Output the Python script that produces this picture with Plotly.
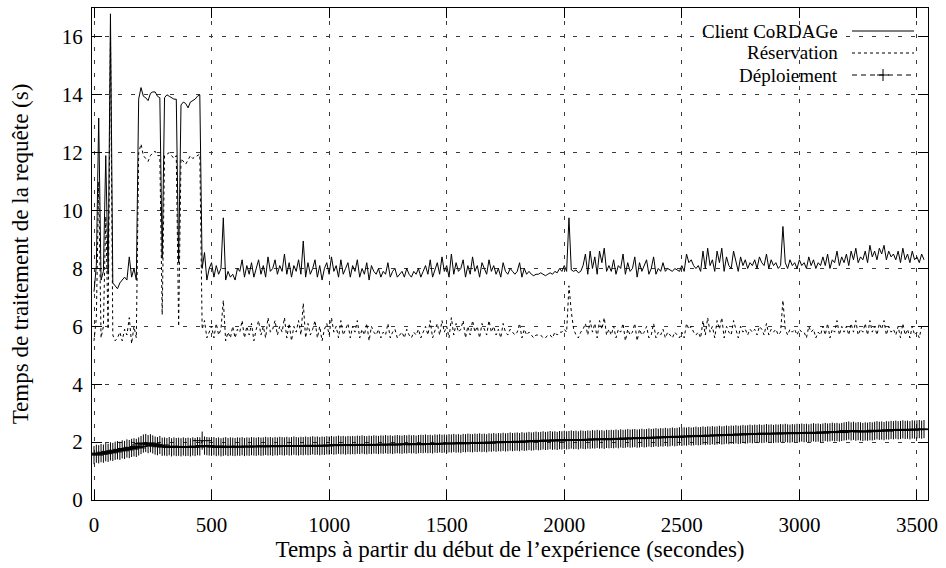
import plotly.graph_objects as go

# Request handling times (s), one sample every 10 s of the experiment
step_s = 10

client_cordage = [
    7.2, 8.1, 13.2, 7.6, 7.9, 11.9, 7.8, 16.8, 7.5, 7.4,
    7.3, 7.5, 7.6, 7.7, 7.6, 8.4, 7.7, 8.0, 7.6, 13.85,
    14.25, 13.95, 13.9, 13.8, 14.05, 14.1, 14.1, 13.95, 13.9, 8.35,
    13.9, 14.0, 13.95, 13.9, 13.85, 13.85, 8.2, 13.65, 13.75, 13.7,
    13.55, 13.75, 13.8, 13.85, 13.95, 14.0, 8.0, 8.55, 7.6, 8.0,
    8.2, 7.7, 8.1, 7.8, 8.0, 9.75, 7.6, 7.9, 7.7, 7.8,
    7.6, 8.0, 7.9, 8.3, 7.7, 8.1, 7.8, 8.2, 7.7, 8.0,
    8.3, 7.8, 8.1, 7.7, 8.4, 7.9, 8.0, 8.3, 7.8, 8.1,
    7.9, 8.5, 7.8, 8.2, 7.7, 8.1, 7.9, 8.3, 7.8, 8.95,
    7.7, 8.2, 7.8, 8.0, 8.3, 7.7, 8.1, 7.6, 8.0, 8.2,
    7.8, 8.4, 7.9, 8.1, 7.7, 8.3, 7.8, 8.0, 8.2, 7.7,
    8.1, 7.9, 8.3, 7.7, 8.0, 7.8, 8.2, 7.6, 8.1, 7.9,
    7.8, 8.0, 7.7, 7.9, 7.8, 8.2, 7.7, 7.9, 8.0, 7.7,
    7.8, 7.9, 7.7, 8.0, 7.8, 7.7, 7.9, 7.8, 8.0, 7.7,
    7.9, 8.1, 7.8, 8.3, 7.7, 8.0, 8.2, 7.8, 8.4, 7.9,
    8.1, 7.7, 8.5, 7.8, 8.2, 7.9, 8.0, 8.3, 7.7, 8.1,
    7.8, 8.4, 7.9, 8.1, 7.7, 8.2, 8.0, 7.8, 8.3, 7.9,
    8.1, 7.8, 8.0, 7.7, 8.2, 7.9, 7.8, 8.0, 7.9, 7.8,
    7.9, 8.2, 7.7, 8.0, 7.8, 7.9, 7.8, 7.75, 7.8, 7.8,
    7.85, 7.8, 7.75, 7.8, 7.85, 7.8, 7.9, 7.85, 8.0, 7.9,
    8.1, 7.9, 9.75, 7.95, 7.9, 7.95, 7.85, 7.9, 8.1, 8.5,
    7.8, 8.6, 8.0, 8.4, 7.8, 8.6, 8.2, 8.7, 7.9, 8.1,
    7.9, 8.3, 7.8, 8.1, 8.0, 8.5, 7.8, 8.2, 7.9, 8.0,
    8.4, 7.7, 8.2, 7.9, 8.1, 8.3, 7.8, 8.0, 8.4, 7.8,
    8.0, 7.9, 8.2, 7.9, 8.0, 7.95, 7.9, 8.0, 7.95, 7.9,
    8.1, 7.9, 8.5, 8.2, 8.3, 8.1, 8.0, 8.1, 7.9, 8.6,
    8.0, 8.7, 8.1, 8.3, 7.9, 8.6, 8.2, 8.7, 7.9, 8.4,
    8.1, 8.0, 8.6, 8.2, 7.9, 8.4, 8.1, 8.3, 8.0, 8.2,
    8.1, 8.3, 8.0, 8.4, 8.2, 8.1, 8.5, 8.0, 8.3, 8.1,
    8.2, 8.0, 8.1, 9.45, 8.2, 8.0, 8.3, 8.1, 8.2, 8.0,
    8.3, 8.1, 8.2, 8.0, 8.4, 8.1, 8.3, 8.0, 8.2, 8.1,
    8.4, 8.1, 8.5, 8.0, 8.3, 8.2, 8.6, 8.1, 8.4, 8.2,
    8.5, 8.1, 8.6, 8.3, 8.7, 8.2, 8.4, 8.3, 8.6, 8.2,
    8.8, 8.4, 8.6, 8.3, 8.7, 8.5, 8.8, 8.3, 8.6, 8.4,
    8.5, 8.3, 8.6, 8.2, 8.7, 8.3, 8.5, 8.2, 8.6, 8.3,
    8.4, 8.2, 8.5, 8.3,
]

reservation = [
    5.5, 6.3, 11.0, 5.6, 6.0, 9.8, 5.9, 16.0, 5.7, 5.5,
    5.6, 5.8, 5.5, 5.9, 5.7, 6.3, 5.4, 6.0, 5.6, 12.0,
    12.3, 11.9, 11.8, 11.7, 11.9, 12.0, 12.05, 11.9, 11.9, 6.4,
    11.9, 11.95, 12.0, 11.9, 11.8, 11.9, 6.0, 11.8, 11.7, 11.6,
    11.75, 11.9, 11.8, 11.85, 11.9, 11.95, 5.9, 6.2, 5.6, 5.8,
    6.0, 5.6, 6.1, 5.7, 5.9, 6.9, 5.5, 5.8, 5.6, 6.0,
    5.6, 5.9, 5.8, 6.2, 5.6, 6.0, 5.7, 6.1, 5.5, 5.9,
    6.2, 5.7, 6.0, 5.6, 6.3, 5.8, 5.9, 6.2, 5.7, 6.0,
    5.8, 6.3, 5.6, 6.1, 5.5, 6.0, 5.8, 6.2, 5.7, 6.8,
    5.6, 6.1, 5.7, 5.9, 6.2, 5.6, 6.0, 5.5, 5.9, 6.1,
    5.7, 6.3, 5.8, 6.0, 5.6, 6.2, 5.7, 5.9, 6.1, 5.6,
    6.0, 5.8, 6.2, 5.6, 5.9, 5.7, 6.1, 5.5, 6.0, 5.8,
    5.7, 5.9, 5.6, 5.8, 5.7, 6.1, 5.6, 5.8, 5.9, 5.6,
    5.7, 5.8, 5.6, 5.9, 5.7, 5.6, 5.8, 5.7, 5.9, 5.6,
    5.8, 6.0, 5.7, 6.2, 5.6, 5.9, 6.1, 5.7, 6.2, 5.8,
    6.0, 5.6, 6.3, 5.7, 6.1, 5.8, 5.9, 6.2, 5.6, 6.0,
    5.7, 6.2, 5.8, 6.0, 5.6, 6.1, 5.9, 5.7, 6.2, 5.8,
    6.0, 5.7, 5.9, 5.6, 6.1, 5.8, 5.7, 5.9, 5.8, 5.7,
    5.8, 6.1, 5.6, 5.9, 5.7, 5.8, 5.7, 5.6, 5.7, 5.7,
    5.7, 5.6, 5.6, 5.7, 5.7, 5.6, 5.8, 5.7, 5.8, 5.8,
    5.9, 5.8, 7.4, 6.5, 5.9, 5.7, 5.6, 5.8, 5.9, 6.1,
    5.7, 6.2, 5.8, 6.1, 5.6, 6.2, 5.9, 6.3, 5.7, 5.9,
    5.7, 6.0, 5.6, 5.9, 5.8, 6.1, 5.5, 5.9, 5.7, 5.8,
    6.1, 5.5, 5.9, 5.7, 5.8, 6.0, 5.6, 5.7, 6.1, 5.6,
    5.8, 5.7, 5.9, 5.6, 5.8, 5.7, 5.6, 5.8, 5.7, 5.6,
    5.8, 5.6, 6.1, 5.9, 6.0, 5.8, 5.7, 5.8, 5.6, 6.2,
    5.7, 6.3, 5.8, 6.0, 5.6, 6.2, 5.9, 6.3, 5.6, 6.0,
    5.8, 5.7, 6.2, 5.9, 5.6, 6.0, 5.8, 5.9, 5.7, 5.9,
    5.8, 5.9, 5.7, 6.0, 5.9, 5.7, 6.1, 5.7, 5.9, 5.8,
    5.9, 5.7, 5.8, 6.9, 5.9, 5.7, 5.9, 5.8, 5.9, 5.7,
    5.9, 5.8, 5.8, 5.6, 6.0, 5.8, 5.9, 5.6, 5.8, 5.7,
    6.0, 5.7, 6.1, 5.6, 5.9, 5.8, 6.2, 5.7, 6.0, 5.8,
    6.0, 5.7, 6.1, 5.8, 6.2, 5.7, 5.9, 5.8, 6.1, 5.7,
    6.2, 5.8, 6.0, 5.7, 6.1, 5.9, 6.2, 5.7, 6.0, 5.8,
    5.9, 5.7, 6.0, 5.6, 6.1, 5.7, 5.9, 5.6, 6.0, 5.7,
    5.8, 5.6, 6.0, 5.9,
]

deploiement = [
    1.55, 1.6, 1.58, 1.62, 1.6, 1.65, 1.63, 1.68, 1.66, 1.7,
    1.72, 1.7, 1.75, 1.73, 1.78, 1.76, 1.8, 1.82, 1.8, 1.85,
    1.9, 1.95, 1.97, 1.93, 1.96, 1.92, 1.88, 1.86, 1.9, 1.84,
    1.85, 1.83, 1.86, 1.82, 1.85, 1.83, 1.84, 1.82, 1.85, 1.83,
    1.84, 1.82, 1.85, 1.83, 1.86, 1.85, 2.05, 1.88, 1.86, 1.85,
    1.84, 1.86, 1.83, 1.85, 1.82, 1.84, 1.86, 1.83, 1.85, 1.84,
    1.83, 1.85, 1.84, 1.86, 1.83, 1.85, 1.84, 1.86, 1.85, 1.84,
    1.86, 1.84, 1.85, 1.87, 1.85, 1.86, 1.84, 1.86, 1.85, 1.87,
    1.86, 1.85, 1.87, 1.85, 1.86, 1.88, 1.86, 1.85, 1.87, 1.86,
    1.88, 1.86, 1.87, 1.89, 1.87, 1.88, 1.86, 1.88, 1.87, 1.89,
    1.88, 1.9, 1.88, 1.89, 1.91, 1.89, 1.9, 1.88, 1.9, 1.89,
    1.9, 1.89, 1.91, 1.9, 1.92, 1.9, 1.89, 1.91, 1.9, 1.92,
    1.91, 1.9, 1.92, 1.91, 1.93, 1.91, 1.92, 1.9, 1.92, 1.93,
    1.92, 1.91, 1.93, 1.92, 1.94, 1.92, 1.93, 1.91, 1.93, 1.94,
    1.93, 1.95, 1.93, 1.94, 1.92, 1.95, 1.94, 1.96, 1.94, 1.95,
    1.94, 1.96, 1.95, 1.97, 1.95, 1.96, 1.94, 1.97, 1.96, 1.98,
    1.97, 1.96, 1.98, 1.97, 1.99, 1.97, 1.98, 1.96, 1.99, 1.98,
    2.0, 1.98, 2.0, 1.99, 2.01, 1.99, 2.0, 2.02, 2.0, 2.01,
    2.02, 2.0, 2.03, 2.01, 2.02, 2.04, 2.02, 2.03, 2.05, 2.03,
    2.04, 2.06, 2.04, 2.05, 2.07, 2.05, 2.06, 2.04, 2.07, 2.06,
    2.08, 2.06, 2.07, 2.09, 2.07, 2.08, 2.06, 2.09, 2.08, 2.07,
    2.09, 2.08, 2.1, 2.09, 2.11, 2.09, 2.1, 2.08, 2.11, 2.1,
    2.11, 2.1, 2.12, 2.1, 2.13, 2.11, 2.12, 2.14, 2.12, 2.13,
    2.14, 2.12, 2.13, 2.15, 2.13, 2.14, 2.16, 2.14, 2.15, 2.17,
    2.15, 2.17, 2.16, 2.18, 2.16, 2.17, 2.19, 2.17, 2.18, 2.2,
    2.18, 2.2, 2.19, 2.21, 2.19, 2.2, 2.22, 2.2, 2.21, 2.23,
    2.21, 2.23, 2.22, 2.24, 2.22, 2.23, 2.25, 2.23, 2.24, 2.26,
    2.24, 2.26, 2.25, 2.27, 2.25, 2.26, 2.28, 2.26, 2.27, 2.29,
    2.27, 2.29, 2.28, 2.3, 2.28, 2.29, 2.31, 2.29, 2.3, 2.28,
    2.3, 2.29, 2.31, 2.3, 2.32, 2.3, 2.29, 2.31, 2.3, 2.32,
    2.31, 2.33, 2.31, 2.32, 2.3, 2.32, 2.34, 2.32, 2.33, 2.31,
    2.33, 2.35, 2.33, 2.34, 2.36, 2.34, 2.35, 2.33, 2.35, 2.37,
    2.38, 2.4, 2.37, 2.39, 2.36, 2.38, 2.37, 2.35, 2.37, 2.36,
    2.38, 2.37, 2.39, 2.41, 2.39, 2.4, 2.38, 2.41, 2.4, 2.42,
    2.41, 2.43, 2.41, 2.42, 2.44, 2.42, 2.43, 2.41, 2.44, 2.43,
    2.44, 2.45, 2.43, 2.45,
]

series_names = ["Client CoRDAGe", "Réservation", "Déploiement"]
x_tick_values = [0, 500, 1000, 1500, 2000, 2500, 3000, 3500]
y_tick_values = [0, 2, 4, 6, 8, 10, 12, 14, 16]


def times_for(values):
    return [i * step_s for i in range(len(values))]


FONT = "Liberation Serif, Times New Roman, Times, DejaVu Serif, serif"
INK = "black"
DASH_RES = "3px,3px"
DASH_DEP = "5px,4px"

fig = go.Figure()

fig.add_trace(go.Scatter(
    x=times_for(client_cordage), y=client_cordage, mode="lines",
    name=series_names[0], line=dict(color=INK, width=1),
))
fig.add_trace(go.Scatter(
    x=times_for(reservation), y=reservation, mode="lines",
    name=series_names[1], line=dict(color=INK, width=1, dash=DASH_RES),
))
fig.add_trace(go.Scatter(
    x=times_for(deploiement), y=deploiement, mode="lines+markers",
    name=series_names[2], line=dict(color=INK, width=1, dash=DASH_DEP),
    marker=dict(symbol="cross-thin", size=13, line=dict(color=INK, width=1)),
))

axis_common = dict(
    showline=True, linecolor=INK, linewidth=1.3, mirror="ticks",
    ticks="inside", ticklen=10, tickwidth=1, tickcolor=INK,
    showgrid=True, gridcolor="#3a3a3a", gridwidth=1, griddash="4px,9px",
    zeroline=False, tickfont=dict(family=FONT, size=21, color=INK),
)

fig.update_xaxes(
    range=[-8.5, 3547], tickvals=x_tick_values,
    title=dict(text="Temps à partir du début de l’expérience (secondes)",
               font=dict(family=FONT, size=23, color=INK), standoff=4),
    ticklabelstandoff=6, **axis_common,
)
fig.update_yaxes(
    range=[0, 17], tickvals=y_tick_values,
    title=dict(text="Temps de traitement de la requête (s)",
               font=dict(family=FONT, size=23, color=INK), standoff=26),
    ticklabelstandoff=4, **axis_common,
)

# Key in gnuplot style: label right-aligned, line sample to its right
PLOT_L, PLOT_R, PLOT_T, PLOT_B = 92, 928, 8, 500


def px_x(px):
    return (px - PLOT_L) / (PLOT_R - PLOT_L)


def px_y(py):
    return (PLOT_B - py) / (PLOT_B - PLOT_T)


key_rows = [31, 53, 75]
key_dashes = ["solid", DASH_RES, DASH_DEP]
shapes = []
annotations = []
for name, row, dash in zip(series_names, key_rows, key_dashes):
    annotations.append(dict(
        x=px_x(839), y=px_y(row), xref="paper", yref="paper",
        text=name, showarrow=False, xanchor="right", yanchor="middle",
        font=dict(family=FONT, size=19, color=INK),
        borderpad=0,
    ))
    shapes.append(dict(
        type="line", xref="paper", yref="paper",
        x0=px_x(852), x1=px_x(914), y0=px_y(row), y1=px_y(row),
        line=dict(color=INK, width=1, dash=dash),
    ))
mid = (852 + 914) / 2
shapes.append(dict(type="line", xref="paper", yref="paper",
                   x0=px_x(mid - 6), x1=px_x(mid + 6),
                   y0=px_y(key_rows[2]), y1=px_y(key_rows[2]),
                   line=dict(color=INK, width=1)))
shapes.append(dict(type="line", xref="paper", yref="paper",
                   x0=px_x(mid), x1=px_x(mid),
                   y0=px_y(key_rows[2] - 6), y1=px_y(key_rows[2] + 6),
                   line=dict(color=INK, width=1)))

fig.update_layout(
    width=946, height=568,
    margin=dict(l=PLOT_L, r=946 - PLOT_R, t=PLOT_T, b=568 - PLOT_B),
    paper_bgcolor="white", plot_bgcolor="white",
    showlegend=False, shapes=shapes, annotations=annotations,
    font=dict(family=FONT, color=INK),
)

fig.write_html("out.html")
